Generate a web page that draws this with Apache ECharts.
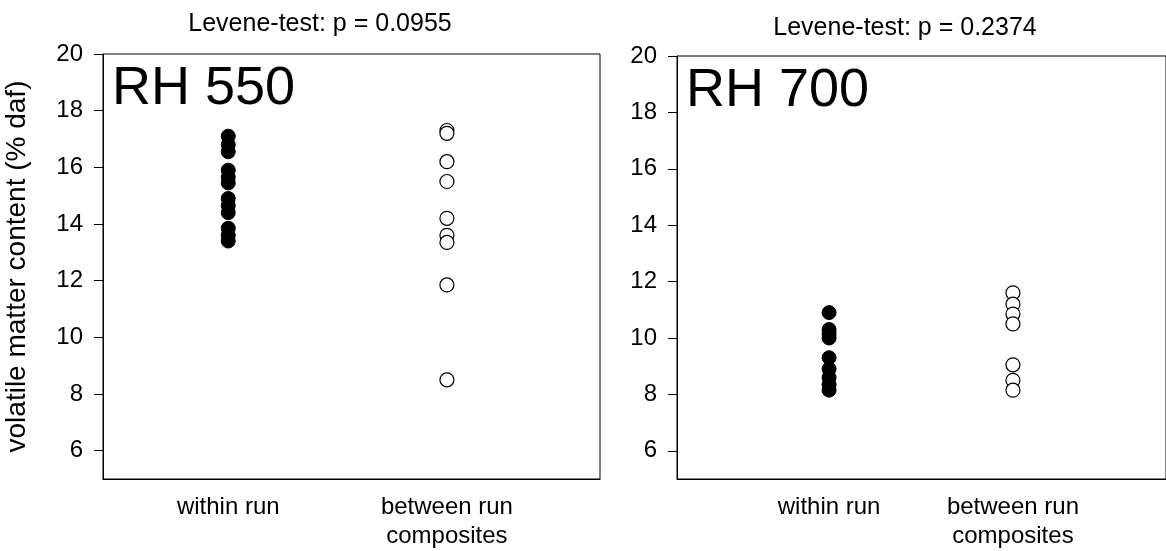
<!DOCTYPE html>
<html>
<head>
<meta charset="utf-8">
<script src="https://cdn.jsdelivr.net/npm/echarts@6/dist/echarts.min.js"></script>
<style>
  html, body { margin: 0; padding: 0; background: #fff; }
  #chart { width: 1166px; height: 551px; }
</style>
</head>
<body>
<div id="chart"></div>
<script>
// Groups on the x axis
const groups = ['within run', 'between run\ncomposites'];
const yTicks = [6, 8, 10, 12, 14, 16, 18, 20];

// RH 550
const rh550Within = [17.1, 16.8, 16.55, 15.9, 15.65, 15.45, 14.9, 14.65, 14.4, 13.85, 13.6, 13.4];
const rh550Between = [17.3, 17.2, 16.2, 15.5, 14.2, 13.6, 13.35, 11.85, 8.5];
const rh550P = '0.0955';

// RH 700
const rh700Within = [10.9, 10.3, 10.15, 10.0, 9.3, 8.9, 8.6, 8.35, 8.15];
const rh700Between = [11.6, 11.2, 10.85, 10.5, 9.05, 8.5, 8.15];
const rh700P = '0.2374';

const FONT = "'Liberation Sans', Arial, sans-serif";

// where each group sits along its panel's x axis (0..1)
const leftPos = [0.252, 0.692];
const rightPos = [0.311, 0.687];

const chart = echarts.init(document.getElementById('chart'));

function xAxisFor(gridIndex, pos) {
  return {
    gridIndex: gridIndex,
    type: 'value',
    min: 0,
    max: 1,
    axisLine: { show: true, lineStyle: { color: '#000', width: 1 } },
    axisTick: { show: false },
    splitLine: { show: false },
    axisLabel: {
      customValues: pos,
      formatter: (v) => groups[pos.indexOf(v)],
      color: '#000',
      fontSize: 24,
      fontFamily: FONT,
      lineHeight: 29,
      margin: 14,
      verticalAlign: 'top',
    },
  };
}

function yAxisFor(gridIndex, withName) {
  return {
    gridIndex: gridIndex,
    type: 'value',
    min: 5,
    max: 20,
    name: withName ? 'volatile matter content (% daf)' : '',
    nameLocation: 'middle',
    nameGap: 72,
    nameTextStyle: { color: '#000', fontSize: 28, fontFamily: FONT },
    axisLine: { show: true, lineStyle: { color: '#000', width: 1 } },
    axisTick: { show: true, customValues: yTicks, length: 9, lineStyle: { color: '#000' } },
    splitLine: { show: false },
    axisLabel: {
      customValues: yTicks,
      color: '#000',
      fontSize: 24,
      fontFamily: FONT,
      margin: 20,
    },
  };
}

const filled = { color: '#000', borderColor: '#000', borderWidth: 1, opacity: 1 };
const open = { color: '#fff', borderColor: '#000', borderWidth: 1.2, opacity: 1 };

function strip(values, x, xi, style) {
  return {
    type: 'scatter',
    xAxisIndex: xi,
    yAxisIndex: xi,
    symbol: 'circle',
    symbolSize: 14,
    itemStyle: style,
    data: values.map((v) => [x, v]),
    silent: true,
  };
}

const titleStyle = { fontSize: 25, fontWeight: 'normal', color: '#000', fontFamily: FONT };
const panelStyle = { fontSize: 54, fontWeight: 'normal', color: '#000', fontFamily: FONT };

const option = {
  animation: false,
  backgroundColor: '#fff',
  title: [
    { text: 'Levene-test: p = ' + rh550P, left: 315, top: 7, textAlign: 'center', textStyle: titleStyle },
    { text: 'Levene-test: p = ' + rh700P, left: 900, top: 11, textAlign: 'center', textStyle: titleStyle },
    { text: 'RH 550', left: 107, top: 57, textStyle: panelStyle },
    { text: 'RH 700', left: 681, top: 59, textStyle: panelStyle },
  ],
  grid: [
    { left: 103, top: 54, width: 497, height: 427, show: true, borderColor: '#000', borderWidth: 1, backgroundColor: 'transparent' },
    { left: 677, top: 56, width: 500, height: 430, show: true, borderColor: '#000', borderWidth: 1, backgroundColor: 'transparent' },
  ],
  xAxis: [xAxisFor(0, leftPos), xAxisFor(1, rightPos)],
  yAxis: [yAxisFor(0, true), yAxisFor(1, false)],
  series: [
    strip(rh550Within, leftPos[0], 0, filled),
    strip(rh550Between, leftPos[1], 0, open),
    strip(rh700Within, rightPos[0], 1, filled),
    strip(rh700Between, rightPos[1], 1, open),
  ],
};

chart.setOption(option);
</script>
</body>
</html>
